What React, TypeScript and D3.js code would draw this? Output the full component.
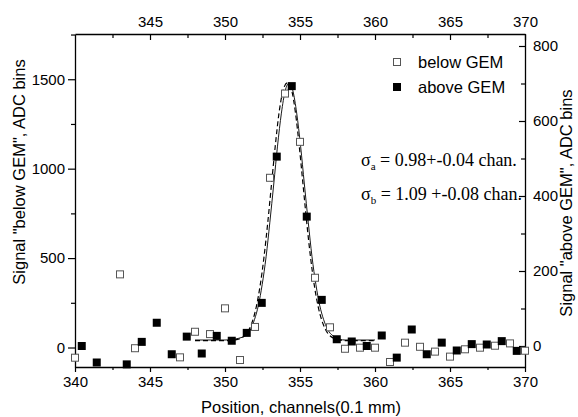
import React, { useEffect, useRef } from 'react';
import * as d3 from 'd3';

// open squares, left axis ("below GEM")
const belowX = [340, 343, 344, 347, 348, 349, 350, 351, 352, 353, 354, 355, 356, 357, 358, 359, 360, 361, 362, 363, 364, 365, 366, 367, 368, 369, 370];
const belowY = [-57, 409, -4, -55, 88, 75, 219, -70, 115, 949, 1420, 1150, 390, 113, -7, -1, -1, -81, 27, 4, -23, -51, -10, -1, 10, 23, -18];

// filled squares, right axis ("above GEM")
const aboveX = [340.45, 341.45, 343.45, 344.45, 345.45, 346.45, 347.45, 348.45, 349.45, 350.45, 351.45, 352.45, 353.45, 354.45, 355.45, 356.45, 357.45, 358.45, 359.45, 360.45, 361.45, 362.45, 363.45, 364.45, 365.45, 366.45, 367.45, 368.45, 369.45];
const aboveY = [0, -44, -49, 11, 62, -22, 25, -20, 27, 14, 35, 115, 505, 693, 345, 123, 18, 12, 0, 28, -31, 44, -22, 9, -12, 5, 4, 13, -13];

// fit curves
const fitBelowX = [348, 349, 350, 350.9, 351.6, 352.1, 352.35, 352.6, 352.85, 353.1, 353.35, 353.6, 353.87, 354.15, 354.45, 354.7, 354.95, 355.2, 355.45, 355.7, 355.95, 356.2, 356.45, 356.7, 357.2, 358, 359, 360];
const fitBelowY = [38, 38, 38, 47, 101, 233, 350, 506, 698, 913, 1126, 1311, 1436, 1480, 1436, 1311, 1126, 913, 698, 506, 350, 233, 153, 101, 54, 38, 38, 38];
const fitAboveX = [348, 349, 350, 351.21, 351.72, 351.97, 352.23, 352.48, 352.74, 352.99, 353.25, 353.5, 353.76, 354.01, 354.27, 354.53, 354.78, 355.04, 355.29, 355.55, 355.8, 356.06, 356.31, 356.57, 356.82, 357.33, 358, 359, 360];
const fitAboveY = [16, 16, 16, 24, 46, 71, 109, 164, 238, 330, 432, 533, 621, 680, 701, 680, 621, 533, 432, 330, 238, 164, 109, 71, 46, 24, 16, 16, 16];

const xTicks = [340, 345, 350, 355, 360, 365, 370];
const leftTicks = [0, 500, 1000, 1500];
const rightTicks = [0, 200, 400, 600, 800];

const W = 578;
const H = 417;
const sans = "'Liberation Sans', Arial, sans-serif";
const serif = "'Liberation Serif', 'Times New Roman', serif";

const App = () => {
  const ref = useRef<SVGSVGElement>(null);

  useEffect(() => {
    const svg = d3.select(ref.current);
    svg.selectAll('*').remove();

    const left = 75, right = 525, top = 34, bottom = 367;

    const x = d3.scaleLinear().domain([340, 370]).range([left, right]);
    const yL = d3.scaleLinear().domain([-109, 1753]).range([bottom, top]);
    const yR = d3.scaleLinear().domain([-56, 832]).range([bottom, top]);
    const fmt = d3.format('d');

    const minorX = d3.range(340, 370.1, 2.5).filter(v => v % 5 !== 0);
    const minorL = d3.range(250, 1751, 500);
    const minorR = d3.range(100, 801, 200);

    const styleAxis = (g, size) => {
      g.selectAll('path').attr('stroke', '#000').attr('stroke-width', 1.3);
      g.selectAll('line').attr('stroke', '#000').attr('stroke-width', 1.2);
      g.selectAll('text').attr('font-family', sans).attr('font-size', size).attr('fill', '#000');
    };
    const minor = (g) => {
      g.select('path').remove();
      g.selectAll('line').attr('stroke', '#000').attr('stroke-width', 1.2);
    };

    // bottom
    const gb = svg.append('g').attr('transform', `translate(0,${bottom})`)
      .call(d3.axisBottom(x).tickValues(xTicks).tickFormat(fmt).tickSize(5).tickPadding(4).tickSizeOuter(0));
    svg.append('g').attr('transform', `translate(0,${bottom})`)
      .call(d3.axisBottom(x).tickValues(minorX).tickSize(3).tickFormat(() => '').tickSizeOuter(0))
      .call(minor);
    styleAxis(gb, 15);

    // top
    const gt = svg.append('g').attr('transform', `translate(0,${top})`)
      .call(d3.axisTop(x).tickValues(xTicks.slice(1)).tickFormat(fmt).tickSize(-6).tickPadding(7).tickSizeOuter(0));
    svg.append('g').attr('transform', `translate(0,${top})`)
      .call(d3.axisTop(x).tickValues(minorX).tickSize(-4).tickFormat(() => '').tickSizeOuter(0))
      .call(minor);
    styleAxis(gt, 15);

    // left
    const gl = svg.append('g').attr('transform', `translate(${left},0)`)
      .call(d3.axisLeft(yL).tickValues(leftTicks).tickFormat(fmt).tickSize(7).tickPadding(3).tickSizeOuter(0));
    svg.append('g').attr('transform', `translate(${left},0)`)
      .call(d3.axisLeft(yL).tickValues(minorL).tickSize(4).tickFormat(() => '').tickSizeOuter(0))
      .call(minor);
    styleAxis(gl, 15);

    // right
    const gr = svg.append('g').attr('transform', `translate(${right},0)`)
      .call(d3.axisRight(yR).tickValues(rightTicks).tickFormat(fmt).tickSize(-6).tickPadding(8).tickSizeOuter(0));
    svg.append('g').attr('transform', `translate(${right},0)`)
      .call(d3.axisRight(yR).tickValues(minorR).tickSize(-4).tickFormat(() => '').tickSizeOuter(0))
      .call(minor);
    styleAxis(gr, 15);

    // fit curves
    const lineB = d3.line<number>().x((d, i) => x(fitBelowX[i])).y(d => yL(d)).curve(d3.curveMonotoneX);
    const lineA = d3.line<number>().x((d, i) => x(fitAboveX[i])).y(d => yR(d)).curve(d3.curveMonotoneX);
    svg.append('path').attr('d', lineB(fitBelowY)).attr('fill', 'none')
      .attr('stroke', '#000').attr('stroke-width', 1.2).attr('stroke-dasharray', '5,3');
    svg.append('path').attr('d', lineA(fitAboveY)).attr('fill', 'none')
      .attr('stroke', '#000').attr('stroke-width', 0.9);

    const s = 8;
    svg.append('g').selectAll('rect').data(belowY).join('rect')
      .attr('x', (d, i) => x(belowX[i]) - s / 2 + 0.5)
      .attr('y', d => yL(d) - s / 2 + 0.5)
      .attr('width', s - 1).attr('height', s - 1)
      .attr('fill', '#fff').attr('stroke', '#555').attr('stroke-width', 1);
    svg.append('g').selectAll('rect').data(aboveY).join('rect')
      .attr('x', (d, i) => x(aboveX[i]) - s / 2)
      .attr('y', d => yR(d) - s / 2)
      .attr('width', s).attr('height', s)
      .attr('fill', '#000');

    // legend
    const lg = svg.append('g').attr('font-family', sans).attr('font-size', 16.5);
    lg.append('rect').attr('x', 393.5).attr('y', 58.5).attr('width', 7).attr('height', 7)
      .attr('fill', '#fff').attr('stroke', '#555');
    lg.append('text').attr('x', 418).attr('y', 68).text('below GEM');
    lg.append('rect').attr('x', 393).attr('y', 83).attr('width', 8).attr('height', 8).attr('fill', '#000');
    lg.append('text').attr('x', 418).attr('y', 93).text('above GEM');

    // sigma annotations
    const sg = svg.append('g').attr('font-family', serif).attr('font-size', 18);
    const t1 = sg.append('text').attr('x', 361).attr('y', 166);
    t1.append('tspan').text('\u03c3');
    t1.append('tspan').attr('font-size', 11).attr('dy', 4).text('a');
    t1.append('tspan').attr('dy', -4).text(' =  0.98+-0.04 chan.');
    const t2 = sg.append('text').attr('x', 361).attr('y', 200);
    t2.append('tspan').text('\u03c3');
    t2.append('tspan').attr('font-size', 11).attr('dy', 4).text('b');
    t2.append('tspan').attr('dy', -4).text(' = 1.09 +-0.08 chan.');

    // axis titles
    svg.append('text').attr('x', (left + right) / 2 + 1).attr('y', 413)
      .attr('text-anchor', 'middle').attr('font-family', sans).attr('font-size', 16.5)
      .text('Position, channels(0.1 mm)');
    svg.append('text').attr('transform', 'translate(25,172) rotate(-90)')
      .attr('text-anchor', 'middle').attr('font-family', sans).attr('font-size', 16.5)
      .text('Signal "below GEM", ADC bins');
    svg.append('text').attr('transform', 'translate(572,203) rotate(-90)')
      .attr('text-anchor', 'middle').attr('font-family', sans).attr('font-size', 16.5)
      .text('Signal "above GEM", ADC bins');
  }, []);

  return (
    <svg ref={ref} width={W} height={H}
      style={{ position: 'absolute', left: 0, top: 0, background: '#fff' }} />
  );
};

export default App;
